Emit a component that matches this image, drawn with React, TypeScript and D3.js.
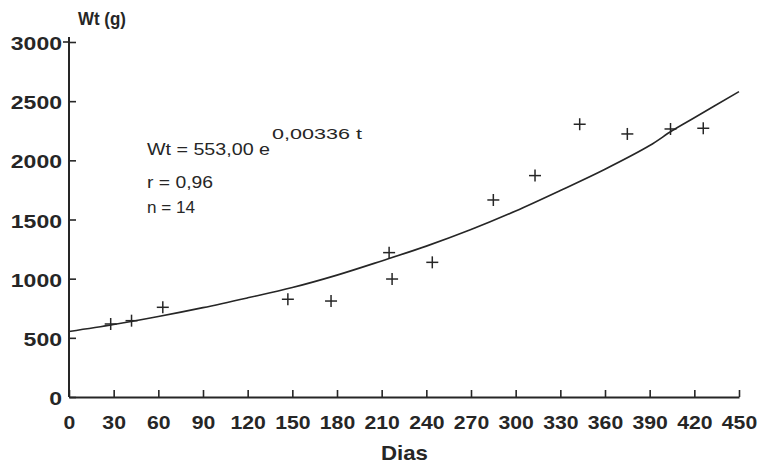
import { useEffect, useRef } from "react";
import * as d3 from "d3";

// observed weights (crosses)
const days = [28, 42, 63, 147, 176, 215, 217, 244, 285, 313, 343, 375, 404, 426];
const weights = [617, 645, 758, 826, 811, 1220, 997, 1138, 1665, 1871, 2305, 2223, 2265, 2271];

// fitted curve
const curveDays = [0, 30, 60, 90, 120, 150, 180, 210, 240, 270, 300, 330, 360, 390, 405, 420, 450];
const curveWeights = [553, 612, 680, 755, 838, 925, 1030, 1150, 1275, 1415, 1572, 1745, 1925, 2125, 2250, 2360, 2581];

const xTicks = [0, 30, 60, 90, 120, 150, 180, 210, 240, 270, 300, 330, 360, 390, 420, 450];
const yTicks = [0, 500, 1000, 1500, 2000, 2500, 3000];

const notes = ["Wt = 553,00 e", "0,00336 t", "r = 0,96", "n = 14"];

function GrowthChart() {
  const ref = useRef<SVGSVGElement | null>(null);

  useEffect(() => {
    const svg = d3.select(ref.current);
    svg.selectAll("*").remove();

    const ink = "#262626";
    const font = "'Liberation Sans', Arial, sans-serif";

    const x = d3.scaleLinear().domain([0, 450]).range([69, 739]);
    const y = d3.scaleLinear().domain([0, 3000]).range([397, 42]);

    // y axis
    const ya = svg
      .append("g")
      .attr("transform", `translate(${x(0)},0)`)
      .call(
        d3
          .axisLeft(y)
          .tickValues(yTicks)
          .tickFormat(d3.format("d"))
          .tickSizeInner(-7)
          .tickSizeOuter(0)
          .tickPadding(7)
      );
    ya.select(".domain").remove();
    ya.selectAll("line").attr("stroke", ink).attr("stroke-width", 1.6);
    ya.selectAll("text")
      .attr("fill", ink)
      .attr("font-family", font)
      .attr("font-weight", "bold")
      .attr("font-size", 18)
      .attr("dy", "0.42em")
      .attr("textLength", (d: any) => String(d).length * 12.8)
      .attr("lengthAdjust", "spacingAndGlyphs");
    // cross at the top tick
    svg
      .append("line")
      .attr("x1", x(0) - 6)
      .attr("x2", x(0))
      .attr("y1", y(3000))
      .attr("y2", y(3000))
      .attr("stroke", ink)
      .attr("stroke-width", 1.6);
    svg
      .append("line")
      .attr("x1", x(0))
      .attr("x2", x(0))
      .attr("y1", y(3000) - 5)
      .attr("y2", y(0))
      .attr("stroke", ink)
      .attr("stroke-width", 2);

    // x axis
    const xa = svg
      .append("g")
      .attr("transform", `translate(0,${y(0)})`)
      .call(d3.axisBottom(x).tickValues(xTicks).tickSizeInner(-7).tickSizeOuter(0).tickPadding(19));
    xa.select(".domain").attr("stroke", ink).attr("stroke-width", 2);
    xa.selectAll("line").attr("stroke", ink).attr("stroke-width", 1.6);
    xa.selectAll("text")
      .attr("fill", ink)
      .attr("font-family", font)
      .attr("font-weight", "bold")
      .attr("font-size", 18)
      .attr("textLength", (d: any) => String(d).length * 11.8)
      .attr("lengthAdjust", "spacingAndGlyphs");

    // fitted curve
    const line = d3
      .line<number>()
      .x((_, i) => x(curveDays[i]))
      .y((d) => y(d))
      .curve(d3.curveCatmullRom);
    svg
      .append("path")
      .attr("d", line(curveWeights))
      .attr("fill", "none")
      .attr("stroke", ink)
      .attr("stroke-width", 1.6);

    // crosses
    const pts = svg
      .append("g")
      .selectAll("g")
      .data(days.map((d, i) => [d, weights[i]]))
      .enter()
      .append("g")
      .attr("transform", (d) => `translate(${x(d[0])},${y(d[1])})`)
      .attr("stroke", ink)
      .attr("stroke-width", 1.5);
    pts.append("line").attr("x1", -6).attr("x2", 6);
    pts.append("line").attr("y1", -6).attr("y2", 6);

    // axis titles
    svg
      .append("text")
      .attr("x", 78)
      .attr("y", 25)
      .attr("fill", ink)
      .attr("font-family", font)
      .attr("font-weight", "bold")
      .attr("font-size", 18)
      .attr("textLength", 48)
      .attr("lengthAdjust", "spacingAndGlyphs")
      .text("Wt (g)");
    svg
      .append("text")
      .attr("x", 381)
      .attr("y", 460)
      .attr("fill", ink)
      .attr("font-family", font)
      .attr("font-weight", "bold")
      .attr("font-size", 21)
      .attr("textLength", 47)
      .attr("lengthAdjust", "spacingAndGlyphs")
      .text("Dias");

    // equation block
    const noteAttrs = [
      { x: 147, y: 155, size: 17, len: 123 },
      { x: 272, y: 139, size: 14, len: 90 },
      { x: 147, y: 188, size: 16, len: 66 },
      { x: 147, y: 213, size: 16, len: 48 },
    ];
    notes.forEach((t, i) => {
      const a = noteAttrs[i];
      svg
        .append("text")
        .attr("x", a.x)
        .attr("y", a.y)
        .attr("fill", ink)
        .attr("font-family", font)
        .attr("font-size", a.size)
        .attr("textLength", a.len)
        .attr("lengthAdjust", "spacingAndGlyphs")
        .text(t);
    });
  }, []);

  return (
    <svg
      ref={ref}
      width={761}
      height={466}
      style={{ position: "absolute", left: 0, top: 0, background: "#fff" }}
    />
  );
}

export default function App() {
  return <GrowthChart />;
}
